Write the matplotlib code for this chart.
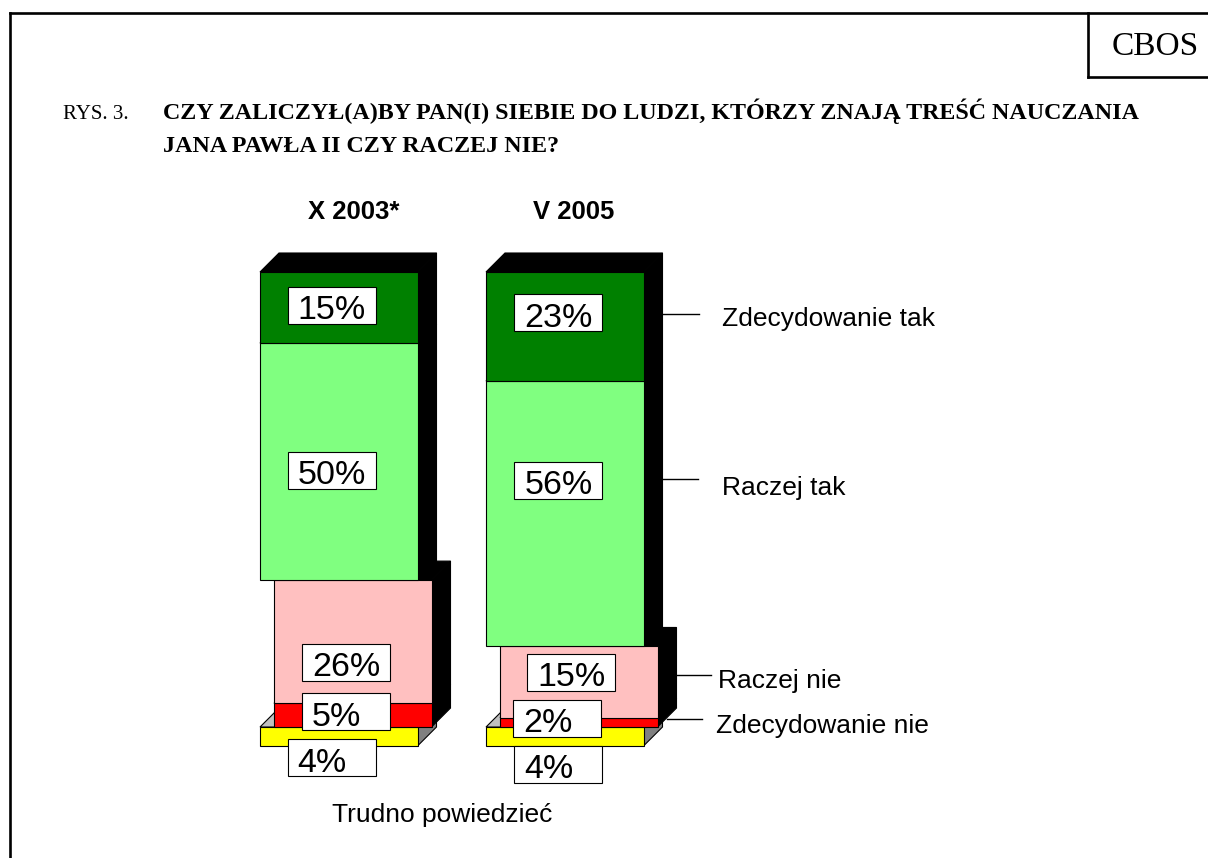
import matplotlib.pyplot as plt
from matplotlib.patches import Polygon, Rectangle

plt.rcParams['font.family'] = ['Liberation Sans', 'DejaVu Sans']

W, H = 1208, 858

# data (percent of answers)
categories = ["X 2003*", "V 2005"]
series = ["Trudno powiedzieć", "Zdecydowanie nie", "Raczej nie",
          "Raczej tak", "Zdecydowanie tak"]
trudno = [4, 4]
zdecydowanie_nie = [5, 2]
raczej_nie = [26, 15]
raczej_tak = [50, 56]
zdecydowanie_tak = [15, 23]
values = [trudno, zdecydowanie_nie, raczej_nie, raczej_tak, zdecydowanie_tak]

colors = ["#FFFF00", "#FF0000", "#FFC0C0", "#80FF80", "#008000"]

# layout: x in page pixels, heights in % units
bar_left = [260, 486]
bar_w = 157.5
shift = [0, 14, 14, 0, 0]      # the "nie" block is pushed a bit to the right
depth_x = 19
PX_PER_PCT = 4.74
ZERO_PX = 746
depth_y = depth_x / PX_PER_PCT

label_y = [[-2.5, 7.2, 17.7, 58.2, 93.0],
           [-3.8, 5.9, 15.6, 56.1, 91.4]]
label_dx = [[-7, -7, -7, -7, -7],
            [-6.5, -21.5, -7.5, -6.5, -6.5]]
box_w, box_h = 88, 37 / PX_PER_PCT


def pct(ypx):
    return (ZERO_PX - ypx) / PX_PER_PCT


def page(x, y):
    return x / W, 1 - y / H


fig = plt.figure(figsize=(W / 100, H / 100), dpi=100)
ax = fig.add_axes([0, 0, 1, 1])
ax.set_xlim(0, W)
ax.set_ylim(pct(H), pct(0))
ax.axis("off")

# 3D-looking stacked bars
for i, cat in enumerate(categories):
    bottom = 0
    for k, vals in enumerate(values):
        v = vals[i]
        x0 = bar_left[i] + shift[k]
        x1 = x0 + bar_w
        y0, y1 = bottom, bottom + v
        if k == 0:
            top_c, side_c = "#C0C0C0", "#808080"
        else:
            top_c, side_c = "black", "black"
        ax.add_patch(Polygon([(x1, y0), (x1 + depth_x, y0 + depth_y),
                              (x1 + depth_x, y1 + depth_y), (x1, y1)],
                             closed=True, fc=side_c, ec="black", lw=0.8))
        ax.add_patch(Polygon([(x0, y1), (x0 + depth_x, y1 + depth_y),
                              (x1 + depth_x, y1 + depth_y), (x1, y1)],
                             closed=True, fc=top_c, ec="black", lw=0.8))
        ax.add_patch(Rectangle((x0, y0), bar_w, v, fc=colors[k],
                               ec="black", lw=0.8))
        bottom = y1

# value labels in white boxes
for i, cat in enumerate(categories):
    for k, vals in enumerate(values):
        cx = bar_left[i] + shift[k] + bar_w / 2 + label_dx[i][k]
        cy = label_y[i][k]
        ax.add_patch(Rectangle((cx - box_w / 2, cy - box_h / 2), box_w, box_h,
                               fc="white", ec="black", lw=0.8, zorder=5))
        ax.text(cx - box_w / 2 + 10, cy - 14 / PX_PER_PCT, f"{vals[i]}%",
                fontsize=24.5, ha="left", va="baseline", zorder=6)

# column headers
header_x = [354, 574]
for i, cat in enumerate(categories):
    ax.text(header_x[i], pct(219), cat, fontsize=18.5, fontweight="bold",
            ha="center", va="baseline")

# series names with leader lines
legend_rows = [  # series index, line x0, line x1, line y, text x, text baseline
    (4, 663, 699, 314, 722, 326),
    (3, 663, 698, 479, 722, 495),
    (2, 677, 711, 675, 718, 688),
    (1, 667, 702, 719, 716, 733),
]
for k, lx0, lx1, ly, tx, ty in legend_rows:
    ax.plot([lx0, lx1], [pct(ly), pct(ly)], color="black", lw=1)
    ax.text(tx, pct(ty), series[k], fontsize=19, ha="left", va="baseline")
ax.text(442, pct(822), series[0], fontsize=19, ha="center", va="baseline")

# page frame, CBOS box and title
lw = 1.9
fig.add_artist(plt.Line2D([9.5 / W, 9.5 / W], [0, 1 - 12.5 / H],
                          transform=fig.transFigure, color="black", lw=lw))
fig.add_artist(plt.Line2D([9.5 / W, 1], [1 - 12.5 / H, 1 - 12.5 / H],
                          transform=fig.transFigure, color="black", lw=lw))
fig.add_artist(plt.Line2D([1088 / W, 1088 / W], [1 - 12.5 / H, 1 - 77 / H],
                          transform=fig.transFigure, color="black", lw=lw))
fig.add_artist(plt.Line2D([1088 / W, 1], [1 - 77 / H, 1 - 77 / H],
                          transform=fig.transFigure, color="black", lw=lw))
fig.text(*page(1155, 55), "CBOS", family="Liberation Serif", fontsize=24,
         ha="center", va="baseline")

fig.text(*page(63, 119), "RYS. 3.", family="Liberation Serif", fontsize=15,
         ha="left", va="baseline")
fig.text(*page(163, 119),
         "CZY ZALICZYŁ(A)BY PAN(I) SIEBIE DO LUDZI, KTÓRZY ZNAJĄ TREŚĆ NAUCZANIA",
         family="Liberation Serif", fontsize=17.3, fontweight="bold",
         ha="left", va="baseline")
fig.text(*page(163, 152), "JANA PAWŁA II CZY RACZEJ NIE?",
         family="Liberation Serif", fontsize=17.3, fontweight="bold",
         ha="left", va="baseline")

fig.savefig("out.png", dpi=100, facecolor="white")
